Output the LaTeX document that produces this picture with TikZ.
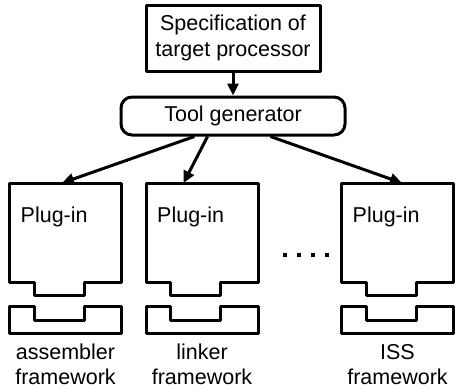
\documentclass[tikz,border=0pt]{standalone}
\usepackage{fontspec}
\setmainfont{Liberation Sans}
\usetikzlibrary{arrows.meta,calc}
\tikzset{
  ln/.style={line width=3pt, line join=round},
  lbl/.style={font=\fontsize{21.5}{25.5}\selectfont, inner sep=0pt},
  boxnode/.style={ln, draw, lbl, align=center},
  arr/.style={ln, -{Triangle[length=12pt,width=11pt]}},
  pics/plugin/.style={code={
    \draw[ln] (0,0) -- (112,0) -- (112,99) -- (74.5,99) -- (74.5,112) -- (24.5,112) -- (24.5,99) -- (0,99) -- cycle;
    \draw[ln] (0,123) -- (24.5,123) -- (24.5,137) -- (74.5,137) -- (74.5,123) -- (112,123) -- (112,150) -- (0,150) -- cycle;
    \node[lbl, anchor=west] (-txt) at (11,34) {Plug-in};
    \coordinate (-top) at (52.5,0);
    \node[lbl, align=center] (-fw) at (56,181.5) {#1\\framework};
  }}
}
\begin{document}
\begin{tikzpicture}[x=1pt,y=-1pt]
\useasboundingbox (0,0) rectangle (455,388);
\node[boxnode, minimum width=174pt, minimum height=66pt] (spec) at (233,38) {Specification of\\target processor};
\node[boxnode, minimum width=224pt, minimum height=38pt, rounded corners=11pt] (tg) at (233,116) {Tool generator};
\pic (p1) at (9.5,183) {plugin=assembler};
\pic (p2) at (146,183) {plugin=linker};
\pic (p3) at (341.5,183) {plugin=ISS};
\draw[arr] (spec.south) -- (tg.north);
\draw[arr] ($(tg.south west)!0.33!(tg.south east)$) -- (p1-top);
\draw[arr] ($(tg.south west)!0.388!(tg.south east)$) -- ($(p2-top)+(-15,0)$);
\draw[arr] ($(tg.south west)!0.665!(tg.south east)$) -- ($(p3-top)+(8,0)$);
\foreach \x in {285,299,313,327} \fill (\x-2.4,252.6) rectangle (\x+2.4,257.4);
\end{tikzpicture}
\end{document}
